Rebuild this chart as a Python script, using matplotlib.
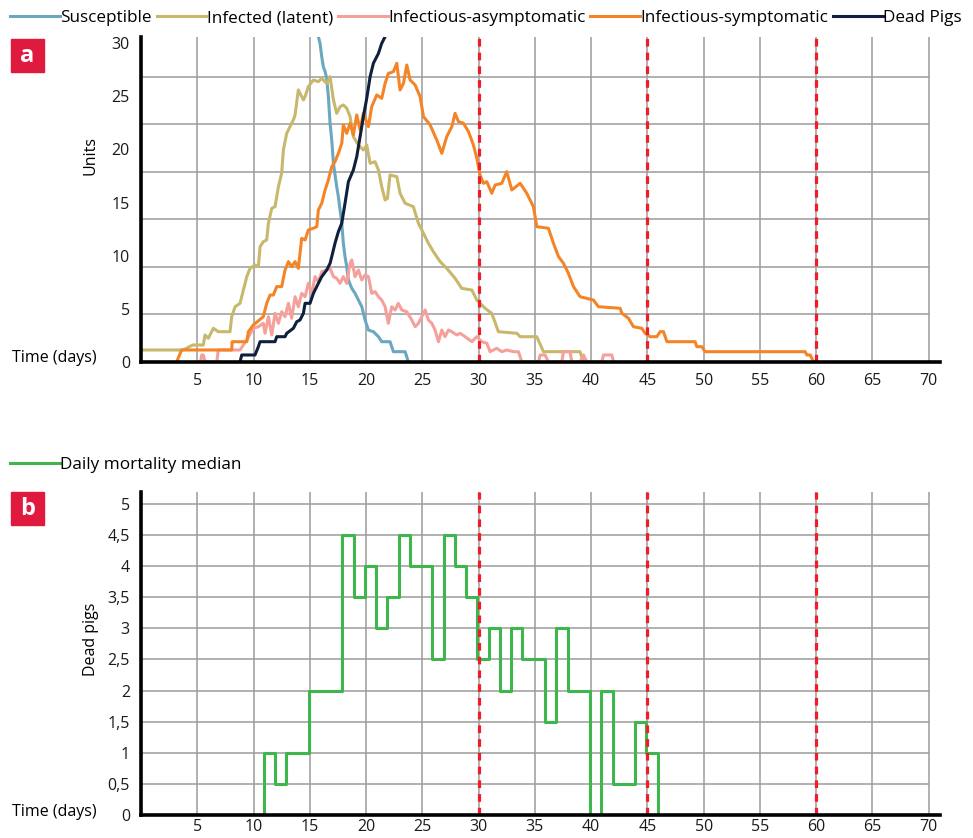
import numpy as np
import matplotlib.pyplot as plt
from matplotlib.patches import Rectangle

plt.rcParams['font.family'] = ['Open Sans', 'DejaVu Sans']

# ---- panel a: compartment counts (days, units) ----
sus_t = [15.76, 15.91, 16.06, 16.2, 16.36, 16.5, 16.65, 16.8, 16.95, 17.1, 17.39, 17.54,
         17.69, 17.84, 17.98, 18.13, 18.28, 18.43, 18.73, 19.02, 19.32, 19.62, 19.91,
         20.21, 20.65, 21.1, 21.39, 22.13, 22.43, 23.47, 23.76]
sus_v = [30.6, 29.97, 28.72, 27.78, 27.31, 26.69, 24.96, 22.46, 20.88, 18.69, 16.49, 15.55,
         14.3, 13.05, 11.17, 9.91, 8.97, 7.71, 6.93, 6.46, 5.83, 5.2, 3.95,
         3.01, 2.85, 2.38, 1.91, 1.91, 0.97, 0.97, 0.0]

lat_t = [0.0, 3.76, 4.59, 5.54, 5.69, 5.98, 6.43, 6.87, 7.91, 8.06, 8.36, 8.8, 9.4, 9.69,
         10.13, 10.43, 10.58, 10.87, 11.17, 11.32, 11.62, 11.91, 12.21, 12.5, 12.65, 12.95,
         13.24, 13.54, 13.69, 13.98, 14.43, 14.58, 14.87, 15.32, 15.76, 16.06, 16.5, 16.8,
         17.1, 17.39, 17.69, 17.98, 18.28, 18.58, 18.87, 19.32, 19.76, 20.06, 20.36, 20.8,
         21.1, 21.39, 21.69, 21.9, 22.13, 22.73, 23.02, 23.47, 24.2, 24.65, 25.1, 25.54,
         25.98, 26.58, 27.17, 27.91, 28.5, 29.4, 29.84, 30.58, 31.17, 31.76, 33.4, 33.69,
         35.17, 35.76, 39.02, 39.3]
lat_v = [1.13, 1.13, 1.6, 1.6, 2.54, 2.23, 3.17, 2.85, 2.85, 4.26, 5.2, 5.52, 8.03, 8.81,
         9.12, 8.97, 10.85, 11.32, 11.48, 13.05, 14.46, 14.61, 16.49, 17.75, 19.94, 21.51,
         22.14, 22.77, 23.24, 25.59, 24.65, 24.96, 25.9, 26.53, 26.37, 26.69, 26.2, 26.84,
         24.65, 23.39, 24.02, 24.18, 23.87, 23.08, 21.2, 20.41, 19.94, 20.41, 18.69, 18.84,
         18.06, 16.49, 15.24, 15.39, 17.59, 17.43, 15.87, 14.93, 14.61, 13.05, 12.11, 11.17,
         10.38, 9.44, 8.81, 7.87, 6.93, 6.77, 5.83, 5.05, 4.58, 2.85, 2.7, 2.38,
         2.38, 0.97, 0.97, 0.0]

asy_t = [5.3, 5.39, 5.54, 5.7, 6.73, 6.87, 8.8, 9.09, 9.4, 9.98, 10.43, 10.87, 11.02, 11.32,
         11.62, 11.91, 12.21, 12.5, 12.8, 13.1, 13.39, 13.69, 13.98, 14.28, 14.58, 14.87,
         15.17, 15.47, 15.76, 16.06, 16.5, 16.8, 17.1, 17.39, 17.69, 17.98, 18.28, 18.58,
         18.73, 19.02, 19.32, 19.62, 19.91, 20.21, 20.5, 20.8, 21.1, 21.39, 21.69, 21.98,
         22.28, 22.58, 22.87, 23.17, 23.62, 24.06, 24.36, 24.65, 24.95, 25.25, 25.54, 25.84,
         26.13, 26.43, 26.73, 27.02, 27.32, 27.62, 28.06, 28.36, 28.8, 29.4, 29.84, 30.28,
         30.73, 31.02, 31.61, 32.06, 32.5, 33.1, 33.54, 33.84, 35.32, 35.47, 35.91, 36.2,
         37.39, 37.54, 38.13, 38.28, 39.02, 39.32, 39.61, 40.95, 41.1, 41.84, 41.99]
asy_v = [0.0, 0.66, 0.66, 0.0, 0.0, 1.13, 1.13, 1.6, 2.07, 3.17, 3.32, 3.64, 2.7, 4.26,
         2.54, 4.58, 3.64, 4.73, 4.26, 5.52, 4.11, 6.14, 5.2, 6.46, 6.14, 7.4,
         6.46, 8.03, 7.55, 8.49, 8.65, 8.81, 8.03, 7.87, 7.4, 8.03, 7.4, 9.28,
         9.6, 8.03, 8.65, 7.71, 8.19, 8.03, 6.46, 6.62, 6.14, 5.83, 5.2, 3.64,
         5.2, 4.89, 5.52, 4.89, 4.73, 3.95, 3.32, 3.64, 4.26, 4.89, 3.95, 3.64,
         3.01, 1.91, 3.01, 2.38, 3.01, 2.85, 2.54, 2.7, 2.38, 1.91, 2.38, 1.91,
         1.76, 0.97, 1.29, 0.97, 1.13, 0.97, 0.97, 0.0, 0.0, 0.66, 0.66, 0.0,
         0.0, 0.97, 0.97, 0.0, 0.0, 0.66, 0.0, 0.0, 0.66, 0.66, 0.0]

sym_t = [3.17, 3.6, 8.06, 8.1, 9.4, 9.54, 9.98, 10.87, 11.17, 11.47, 11.76, 12.06, 12.5,
         12.8, 13.1, 13.39, 13.69, 13.98, 14.28, 14.58, 14.87, 15.32, 15.62, 15.76, 16.06,
         16.36, 16.65, 16.95, 17.24, 17.54, 17.84, 17.98, 18.28, 18.58, 18.87, 19.17, 19.47,
         19.76, 20.21, 20.5, 20.95, 21.39, 21.69, 21.98, 22.43, 22.73, 23.02, 23.32, 23.62,
         23.91, 24.36, 24.8, 25.1, 25.69, 26.28, 26.73, 27.17, 27.62, 27.91, 28.21, 28.65,
         29.1, 29.54, 29.84, 30.13, 30.43, 30.73, 31.17, 31.47, 32.06, 32.5, 32.95, 33.69,
         34.28, 34.87, 35.17, 36.2, 36.65, 37.1, 37.54, 37.98, 38.43, 39.02, 40.2, 40.65,
         42.58, 42.73, 43.32, 43.76, 44.5, 44.8, 45.24, 45.84, 46.13, 46.43, 46.73, 49.24,
         49.39, 49.84, 50.13, 59.02, 59.17, 59.47, 59.76]
sym_v = [0.0, 1.13, 1.13, 1.91, 1.91, 2.85, 3.48, 4.26, 5.52, 6.3, 6.3, 7.09, 7.09,
         8.65, 9.44, 8.97, 9.44, 8.81, 11.63, 11.48, 12.42, 12.58, 12.73, 14.3, 14.93,
         16.18, 17.12, 18.37, 18.84, 19.63, 20.57, 22.3, 21.51, 22.46, 21.35, 23.24, 21.83,
         23.39, 22.14, 24.02, 25.12, 24.8, 26.2, 27.14, 27.31, 28.1, 25.59, 26.2, 27.94,
         26.53, 26.06, 24.96, 23.08, 22.3, 20.88, 19.63, 21.2, 22.14, 23.39, 22.61, 22.46,
         21.67, 20.41, 19.16, 17.59, 16.81, 16.96, 15.87, 16.65, 16.81, 17.9, 16.18, 16.81,
         15.87, 14.61, 12.73, 12.58, 11.17, 9.91, 9.28, 8.34, 7.09, 6.14, 5.83, 5.2,
         5.05, 4.58, 4.11, 3.32, 3.17, 2.7, 2.38, 2.38, 2.85, 2.85, 1.91, 1.91,
         1.44, 1.44, 0.97, 0.97, 0.66, 0.66, 0.0]

dead_t = [8.8, 8.95, 10.13, 10.43, 10.58, 11.91, 12.06, 12.8, 12.95, 13.54, 13.84, 14.13,
          14.43, 14.58, 15.02, 15.32, 15.76, 16.06, 16.5, 16.8, 16.95, 17.24, 17.54, 17.84,
          18.13, 18.43, 18.87, 19.17, 19.47, 19.76, 20.06, 20.36, 20.65, 21.1, 21.39, 21.69]
dead_v = [0.0, 0.66, 0.66, 1.44, 1.91, 1.91, 2.38, 2.38, 2.7, 3.17, 3.79, 3.95,
          4.58, 5.52, 5.52, 6.46, 7.4, 8.03, 8.65, 9.28, 9.91, 11.17, 12.26, 13.05,
          14.93, 16.96, 18.06, 19.31, 21.2, 23.08, 24.8, 26.84, 28.1, 29.03, 29.97, 30.6]

# ---- panel b: daily mortality median (value holds from each change day) ----
mort_t = [0, 10.9, 11.9, 12.9, 14.9, 17.9, 18.9, 19.9, 20.9, 21.9, 22.9, 23.9, 25.9,
          26.9, 27.9, 28.9, 29.9, 30.9, 31.9, 32.9, 33.9, 35.9, 36.9, 37.9, 39.9, 40.9,
          41.9, 43.9, 44.9, 45.9, 60]
mort_v = [0, 1, 0.5, 1, 2, 4.5, 3.5, 4, 3, 3.5, 4.5, 4, 2.5,
          4.5, 4, 3.5, 2.5, 3, 2, 3, 2.5, 1.5, 3, 2, 0, 2,
          0.5, 1.5, 1, 0, 0]

x_ticks = list(range(5, 75, 5))
a_ticks = [0, 5, 10, 15, 20, 25, 30]
b_ticks = [0, 0.5, 1, 1.5, 2, 2.5, 3, 3.5, 4, 4.5, 5]
b_labels = ['0', '0,5', '1', '1,5', '2', '2,5', '3', '3,5', '4', '4,5', '5']
control_days = [30, 45, 60]

C_SUS = '#6aa7c1'
C_LAT = '#c7b86b'
C_ASY = '#f5a09b'
C_SYM = '#f58427'
C_DEAD = '#0f1f3d'
C_MORT = '#3db64b'
C_RED = '#ee1d27'
C_GRID = '#9b9b9b'
C_BOX = '#e01a3f'
FS = 11.5

fig = plt.figure(figsize=(9.73, 8.38), dpi=100)
ax_a = fig.add_axes([141 / 973, 1 - 362 / 838, 799 / 973, 325 / 838])
ax_b = fig.add_axes([141 / 973, 1 - 815 / 838, 799 / 973, 323 / 838])


def style_axes(ax, ymax, grid_y, xpad):
    ax.set_xlim(0, 71)
    ax.set_ylim(0, ymax)
    for s in ['top', 'right']:
        ax.spines[s].set_visible(False)
    for s in ['left', 'bottom']:
        ax.spines[s].set_linewidth(2.6)
        ax.spines[s].set_color('black')
        ax.spines[s].set_zorder(5)
    ax.set_xticks(x_ticks)
    ax.tick_params(length=0, labelsize=FS, colors='#1a1a1a')
    ax.tick_params(axis='x', pad=xpad)
    ax.tick_params(axis='y', pad=8)
    for x in x_ticks:
        ax.axvline(x, color=C_GRID, lw=1.1, zorder=0)
    ax.hlines(grid_y, 0, 70, color=C_GRID, lw=1.1, zorder=0)
    for d in control_days:
        ax.axvline(d, color=C_RED, lw=2.3, dashes=(2.4, 1.9), zorder=4)


# panel a: horizontal grid drawn at its own spacing, not at the tick labels
style_axes(ax_a, 30.57, [4.47 * k for k in range(1, 7)], 8)
ax_a.set_yticks(a_ticks)
ax_a.set_yticklabels([str(v) for v in a_ticks])
ax_a.plot(sus_t, sus_v, color=C_SUS, lw=2.2, label='Susceptible', zorder=3)
ax_a.plot(lat_t, lat_v, color=C_LAT, lw=2.2, label='Infected (latent)', zorder=3)
ax_a.plot(asy_t, asy_v, color=C_ASY, lw=2.2, label='Infectious-asymptomatic', zorder=3)
ax_a.plot(sym_t, sym_v, color=C_SYM, lw=2.2, label='Infectious-symptomatic', zorder=3)
ax_a.plot(dead_t, dead_v, color=C_DEAD, lw=2.2, label='Dead Pigs', zorder=3)
ax_a.set_ylabel('Units', fontsize=FS)
ax_a.yaxis.set_label_coords(-42 / 799, 0.635)

# panel b
style_axes(ax_b, 5.19, b_ticks[1:], 3)
ax_b.set_yticks(b_ticks)
ax_b.set_yticklabels(b_labels)
ax_b.plot(mort_t, mort_v, color=C_MORT, lw=2.2, drawstyle='steps-post',
          label='Daily mortality median', zorder=3)
ax_b.set_ylabel('Dead pigs', fontsize=FS)
ax_b.yaxis.set_label_coords(-42 / 799, 0.545)

fig.text(12 / 973, 1 - 358 / 838, 'Time (days)', fontsize=FS, va='center', ha='left')
fig.text(12 / 973, 1 - 812 / 838, 'Time (days)', fontsize=FS, va='center', ha='left')

# panel letters
for label, top in [('a', 39), ('b', 492)]:
    fig.patches.append(Rectangle((11 / 973, 1 - (top + 33) / 838), 33 / 973, 33 / 838,
                                 transform=fig.transFigure, color=C_BOX, zorder=1))
    fig.text(27.5 / 973, 1 - (top + 17) / 838, label, color='white', fontsize=17,
             fontweight='bold', ha='center', va='center')

leg_kw = dict(loc='upper left', frameon=False, fontsize=12.3, handlelength=2.9,
              handletextpad=0.02, borderaxespad=0.2)
fig.legend(*ax_a.get_legend_handles_labels(), bbox_to_anchor=(0.0, 1.0),
           ncol=5, columnspacing=0.3, **leg_kw)
fig.legend(*ax_b.get_legend_handles_labels(), bbox_to_anchor=(0.0, 1 - 447 / 838),
           **leg_kw)

fig.savefig('out.png', dpi=100)
